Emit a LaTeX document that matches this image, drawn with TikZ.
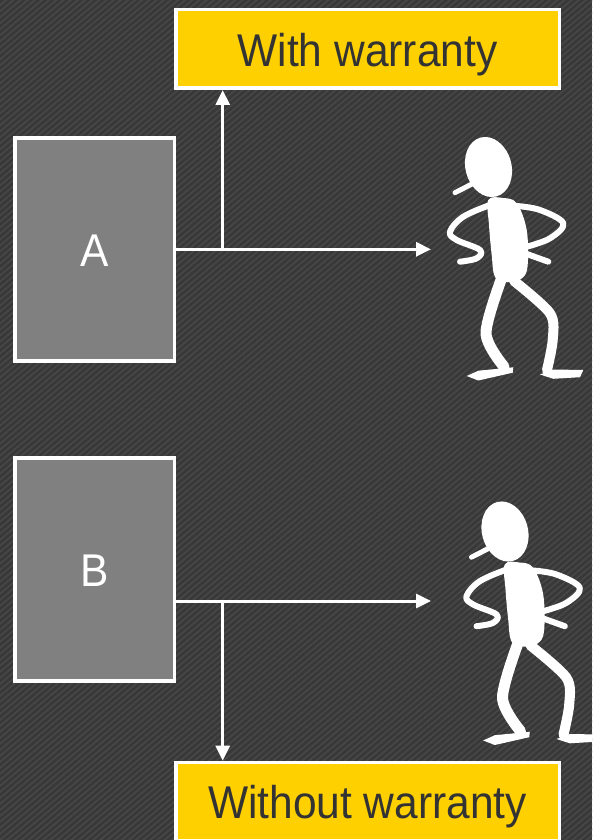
\documentclass[tikz,border=0pt]{standalone}
\usepackage{fontspec}
\setmainfont{Liberation Sans}
\usetikzlibrary{patterns.meta,arrows.meta}

\definecolor{bgbase}{HTML}{383838}
\definecolor{bgstripe}{HTML}{474747}
\definecolor{boxgray}{HTML}{808080}
\definecolor{gold}{HTML}{FFD000}
\definecolor{ink}{HTML}{333333}

% slightly tall lettering
\newcommand{\tall}[1]{\scalebox{1}[1.08]{#1}}

\tikzset{
  letterbox/.style={draw=white, line width=3.5pt, fill=boxgray, text=white,
    minimum width=159.5pt, minimum height=223pt, inner sep=0pt,
    text height=33.4pt, text depth=0pt,
    font=\fontsize{42.5}{50}\selectfont},
  outcome/.style={draw=white, line width=3.5pt, fill=gold, text=ink,
    minimum width=383.5pt, minimum height=78.5pt, inner sep=0pt,
    text height=34.5pt, text depth=0pt,
    font=\fontsize{42.5}{50}\selectfont},
  flow/.style={draw=white, line width=3pt,
    -{Triangle[length=15pt,width=14pt]}},
  limb/.style={draw=white, line cap=round, line join=round},
  pics/walker/.style={code={
    % head with cap brim
    \fill[white, rotate around={15:(488.5,167)}] (488.5,167) ellipse[x radius=23, y radius=30.5];
    \draw[limb, line width=5pt] (455,192.7) -- (473.3,183.3);
    % torso
    \fill[white] plot[smooth cycle, tension=0.6] coordinates {
      (488.3,200) (503,198) (516.7,203.3) (526.7,230) (527.5,266.7)
      (521,279) (507,282) (495,277) (491.7,255) (489,225)};
    % arms on hips
    \draw[limb, line width=6pt] plot[smooth, tension=0.6] coordinates {
      (490,205) (463.3,216.7) (450,231.7) (456.7,240) (480,250) (476.7,258.3) (460,261.7)};
    \draw[limb, line width=6pt] plot[smooth, tension=0.6] coordinates {
      (516.7,206) (540,210) (563.3,223.3) (550,238.3) (526.7,246.7)};
    \draw[limb, line width=6pt] (524,253) -- (548.3,261.7);
    % legs
    \draw[limb, line width=11pt] plot[smooth, tension=0.5] coordinates {
      (501.7,278) (486,333.3) (504,366.7)};
    \draw[limb, line width=10pt] plot[smooth, tension=0.5] coordinates {
      (514,281) (550,313.3) (552.7,340) (547,370)};
    % feet
    \fill[white] (466.7,376) -- (478.3,370.7) -- (513.3,367.3) -- (512.7,372.7) -- (478.3,380.5) -- cycle;
    \fill[white] (540,374.5) -- (553.3,369.5) -- (583.3,370) -- (580,377.2) -- (553.3,378.8) -- cycle;
  }}
}

\begin{document}
\begin{tikzpicture}[x=1pt, y=-1pt]
  \useasboundingbox (0,0) rectangle (592,840);
  \begin{scope}
    \clip (0,0) rectangle (592,840);
    % striped backdrop
    \fill[bgbase] (0,0) rectangle (592,840);
    \fill[pattern={Lines[angle=40, distance=4.6pt, line width=1.7pt]}, pattern color=bgstripe]
      (0,0) rectangle (592,840);

    % boxes
    \node[letterbox] (boxA) at (94.5,249.3) {\tall{A}};
    \node[letterbox] (boxB) at (94.5,569.3) {\tall{B}};
    \node[outcome] (yes) at (367.5,49) {\tall{With warranty}};
    \node[outcome] (no) at (367.5,801.7) {\tall{Without warranty}};

    % customers
    \pic at (0,0) {walker};
    \pic at (16.5,364.5) {walker};

    % flow from A
    \coordinate (custA) at (431,249.3);
    \coordinate (splitA) at (222.7,249.3);
    \draw[flow] (boxA.east) -- (custA);
    \draw[flow] (splitA) -- (splitA |- yes.south);

    % flow from B
    \coordinate (outB) at (boxB.east |- 0,601);
    \coordinate (custB) at (431,601);
    \coordinate (splitB) at (222.7,601);
    \draw[flow] (outB) -- (custB);
    \draw[flow] (splitB) -- (splitB |- no.north);
  \end{scope}
\end{tikzpicture}
\end{document}
